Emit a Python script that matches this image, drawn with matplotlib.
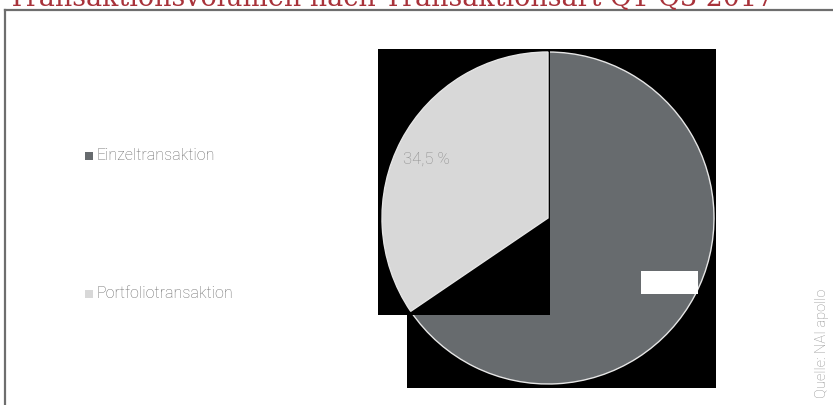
import numpy as np
import matplotlib.pyplot as plt
from matplotlib.patches import Rectangle
from matplotlib.lines import Line2D

# data
labels = ['Einzeltransaktion', 'Portfoliotransaktion']
shares = [65.5, 34.5]
pct_labels = ['65,5 %', '34,5 %']
colors = ['#676b6e', '#d8d8d8']

title = 'Transaktionsvolumen nach Transaktionsart Q1-Q3 2017'
source = 'Quelle: NAI apollo'

W, H = 833, 405
fig = plt.figure(figsize=(W / 100, H / 100), dpi=100)
fig.patch.set_facecolor('white')


def fx(px):
    return px / W


def fy(py):
    return 1 - py / H


# title, cut off at the top of the image
fig.text(fx(8), fy(6), title, color='#a8323a', fontsize=19.4,
         family='DejaVu Serif', va='baseline', ha='left')

# frame lines
fig.add_artist(Line2D([fx(5), fx(5)], [fy(10), 0], color='#6e6e6e', lw=1.6))
fig.add_artist(Line2D([fx(5), 1], [fy(10), fy(10)], color='#6e6e6e', lw=1.6))

# black block behind the lower part of the pie
fig.add_artist(Rectangle((fx(407), fy(388)), fx(716) - fx(407), fy(49) - fy(388),
                         facecolor='black', edgecolor='none', zorder=-1))

# pie
cx, cy, r = 548, 218, 166
ax = fig.add_axes([fx(cx - r), fy(cy + r), fx(2 * r), (2 * r) / H])
wedges, _ = ax.pie(shares, colors=colors, startangle=90, counterclock=False,
                   wedgeprops=dict(edgecolor='#e6e6e6', linewidth=1))
ax.set_xlim(-1, 1)
ax.set_ylim(-1, 1)
ax.axis('off')
wedges[0].set_zorder(1)
wedges[1].set_zorder(3)

# black block over the dark slice, under the light one
blk = Rectangle((fx(378), fy(315)), fx(550) - fx(378), fy(49) - fy(315),
                transform=fig.transFigure, facecolor='black', edgecolor='none',
                zorder=2, clip_on=False)
ax.add_patch(blk)

for txt, w in zip(pct_labels, wedges):
    mid = np.deg2rad((w.theta1 + w.theta2) / 2)
    x, y = 0.83 * np.cos(mid), 0.83 * np.sin(mid)
    if txt == '65,5 %':
        ax.text(x, y, txt, color='white', fontsize=10, ha='center', va='center',
                zorder=5, bbox=dict(facecolor='white', edgecolor='none', pad=3))
    else:
        ax.text(x, y - 0.035, txt, color='#8c8c8c', fontsize=12, ha='center',
                va='center', zorder=5, family='Roboto', fontweight='light')

# legend
leg_y = [156, 294]
for lab, col, y in zip(labels, colors, leg_y):
    fig.add_artist(Rectangle((fx(85), fy(y + 4)), fx(8), 8 / H,
                             facecolor=col, edgecolor='none'))
    fig.text(fx(97), fy(y), lab, color='#6a6a6a', fontsize=11.5, va='center',
             ha='left', family='Roboto', fontweight='light')

# source
fig.text(fx(822), fy(398), source, rotation=90, color='#8c8c8c', fontsize=10.5,
         va='bottom', ha='center', family='Roboto', fontweight='light')

fig.savefig('out.png', dpi=100)
